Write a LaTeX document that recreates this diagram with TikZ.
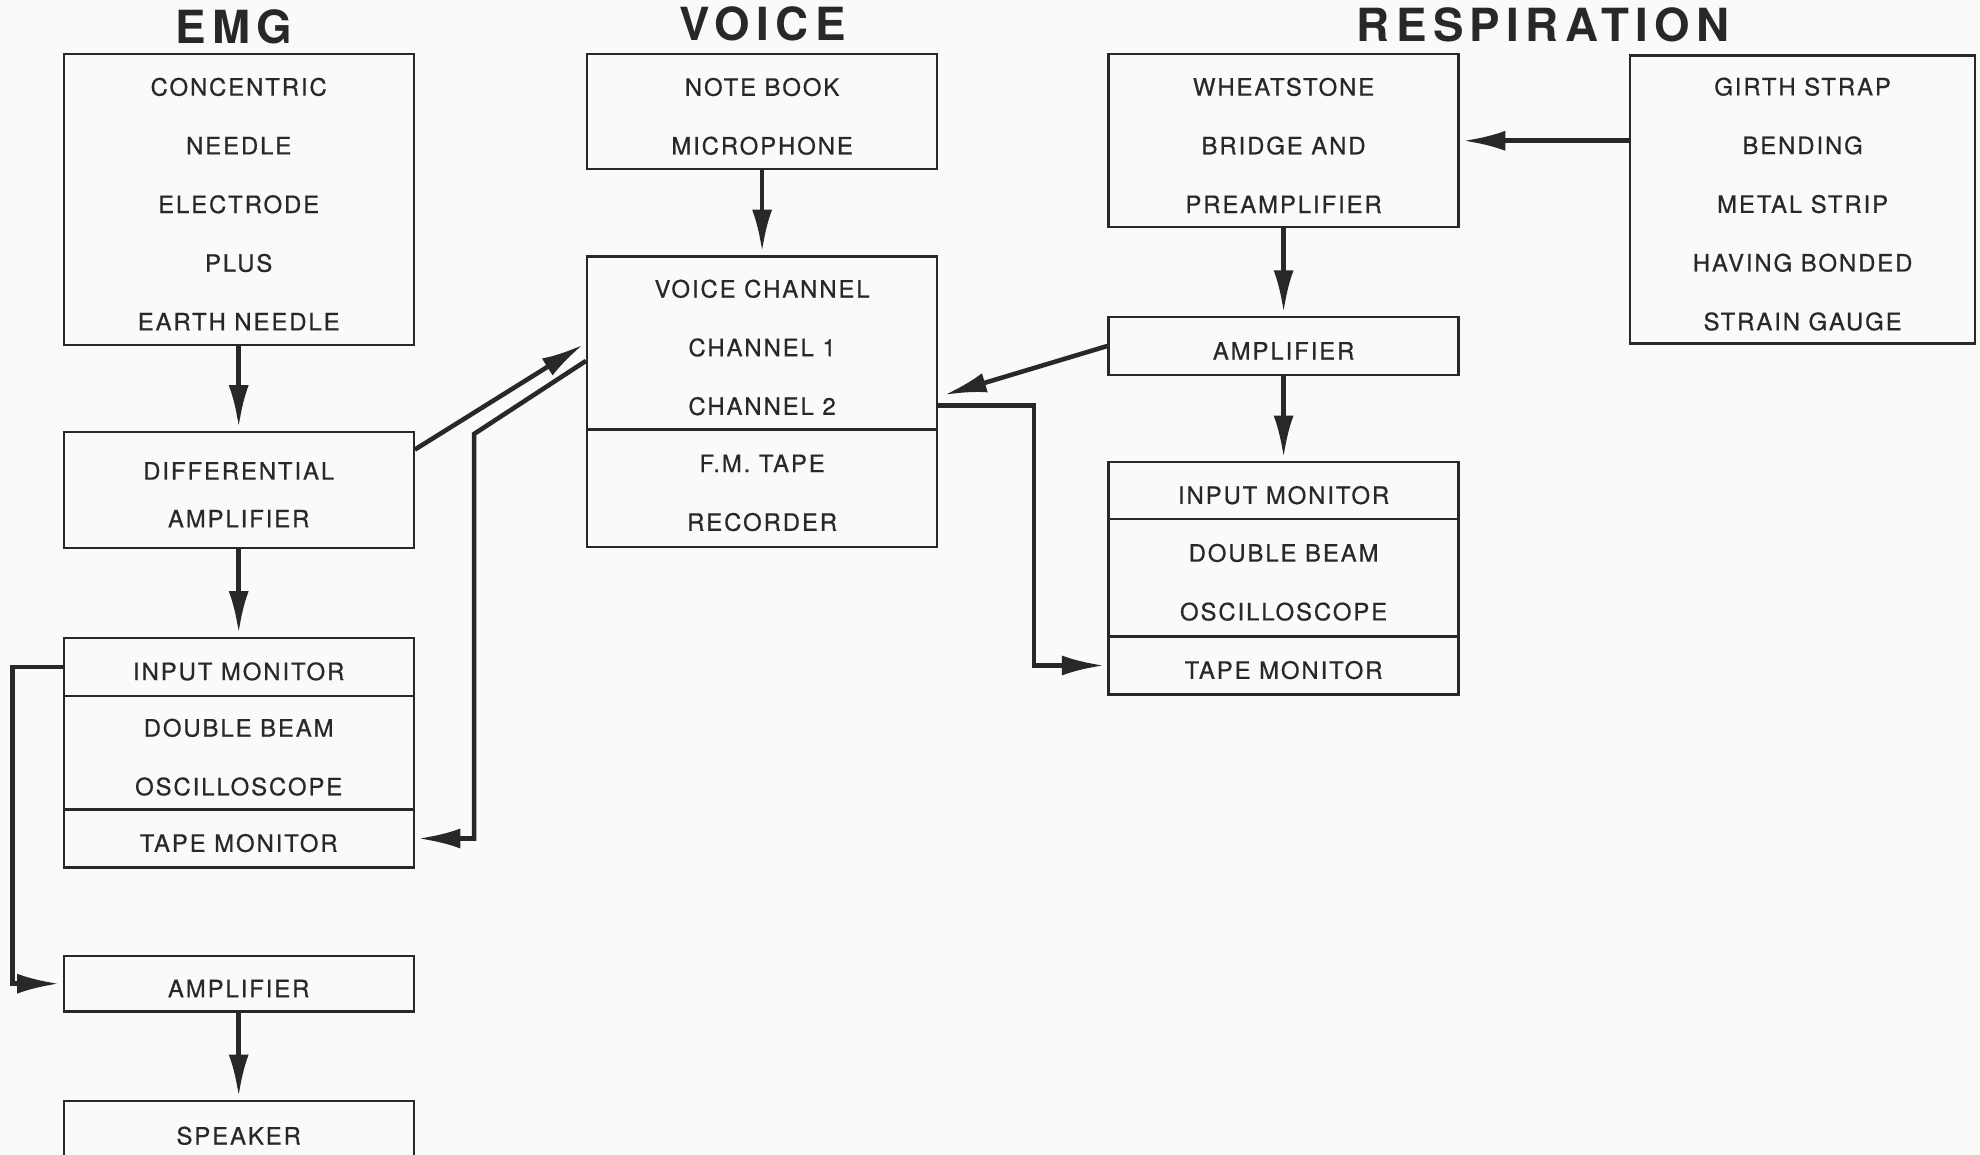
\documentclass[tikz,border=0pt]{standalone}
\usepackage{fontspec}
\setmainfont{TeX Gyre Heros}
\newfontfamily\boxfont[LetterSpace=8,FakeBold=0.6]{TeX Gyre Heros}
\newfontfamily\headfont[LetterSpace=14]{TeX Gyre Heros}
\usepackage{tikz}
\usetikzlibrary{arrows.meta}
\definecolor{ink}{RGB}{40,40,40}
\definecolor{paper}{RGB}{250,250,248}

\begin{document}
\begin{tikzpicture}[
		box/.style={rectangle,draw=ink,line width=0.65pt,minimum width=3.5cm,inner sep=0pt,align=center,text=ink,font=\boxfont\fontsize{6.8}{16.7}\selectfont,execute at begin node={\rule{0pt}{\dimexpr 7.7pt+#1\baselineskip-\baselineskip\relax}}},
		box/.default=1,
		head/.style={text=ink,inner sep=0pt,font=\headfont\bfseries\fontsize{13}{15}\selectfont},
		wire/.style={draw=ink,line width=1.3pt,shorten >=1pt,-{Latex[length=4.2mm,width=2mm]}},
	]
		\clip (0,0) rectangle (19.8,11.55);
		\fill[paper] (0,0) rectangle (19.8,11.55);
%		\draw[help lines] (0,0) grid (19.8,11.55);
		\path (2.336,11.28) node(emg) [head] {EMG};
		\path (7.627,11.31) node(voice) [head] {VOICE};
		\path (15.431,11.30) node(resp) [head] {RESPIRATION};

		\path (2.387,9.555) node(conc) [box=5,minimum height=2.904cm] {CONCENTRIC\\NEEDLE\\ELECTRODE\\PLUS\\EARTH NEEDLE};
		\path (2.387,6.650) node(diff) [box=2,minimum height=1.162cm,font=\boxfont\fontsize{6.8}{13.6}\selectfont] {DIFFERENTIAL\\AMPLIFIER};
		\path (2.387,4.882) node(inmon) [box,minimum height=0.581cm] {INPUT MONITOR};
		\path (2.387,4.024) node(dbeam) [box=2,minimum height=1.137cm] {DOUBLE BEAM\\OSCILLOSCOPE};
		\path (2.387,3.165) node(tmon) [box,minimum height=0.581cm] {TAPE MONITOR};
		\path (2.387,1.713) node(amp) [box,minimum height=0.556cm] {AMPLIFIER};
		\path (2.387,0.238) node(spk) [box,minimum height=0.6cm] {SPEAKER};

		\path (7.621,10.432) node(note) [box=2,minimum height=1.149cm] {NOTE BOOK\\MICROPHONE};
		\path (7.621,8.121) node(vchan) [box=3,minimum height=1.730cm] {VOICE CHANNEL\\CHANNEL 1\\CHANNEL 2};
		\path (7.621,6.669) node(fmtape) [box=2,minimum height=1.174cm] {F.M. TAPE\\RECORDER};

		\path (12.836,10.142) node(wheat) [box=3,minimum height=1.730cm] {WHEATSTONE\\BRIDGE AND\\PREAMPLIFIER};
		\path (12.836,8.090) node(ramp) [box,minimum height=0.581cm] {AMPLIFIER};
		\path (12.836,6.644) node(rinmon) [box,minimum height=0.568cm] {INPUT MONITOR};
		\path (12.836,5.773) node(rdbeam) [box=2,minimum height=1.174cm] {DOUBLE BEAM\\OSCILLOSCOPE};
		\path (12.836,4.895) node(rtmon) [box,minimum height=0.581cm] {TAPE MONITOR};
		\path (18.026,9.555) node(girth) [box=5,minimum width=3.447cm,minimum height=2.879cm] {GIRTH STRAP\\BENDING\\METAL STRIP\\HAVING BONDED\\STRAIN GAUGE};

		\path (0.126,4.882) coordinate (loop_l);
		\path (diff.east) +(0,0.404) coordinate (diff_out);
		\path (vchan.west) +(0,-0.18) coordinate (vchan_out);
		\path (4.742,7.211) coordinate (bend_l);
		\path (vchan.east) +(0.03,-0.53) coordinate (vchan_in);
		\path (vchan.east) +(0,-0.625) coordinate (chan2_out);
		\path (10.342,0) coordinate (turn_r);

		\draw[wire] (conc) -- (diff);
		\draw[wire] (diff) -- (inmon);
		\draw[wire] (inmon.west) -- (inmon.west -| loop_l) |- (amp.west);
		\draw[wire] (amp) -- (spk);
		\draw[wire] (diff_out) -- (vchan.west);
		\draw[wire] (vchan_out) -- (bend_l) |- (tmon.east);
		\draw[wire] (note) -- (vchan);
		\draw[wire] (girth.west |- wheat.east) -- (wheat.east);
		\draw[wire] (wheat) -- (ramp);
		\draw[wire] (ramp) -- (rinmon);
		\draw[wire] (ramp.west) -- (vchan_in);
		\draw[wire] (chan2_out) -| (turn_r |- rtmon.west) -- (rtmon.west);
	\end{tikzpicture}
\end{document}
